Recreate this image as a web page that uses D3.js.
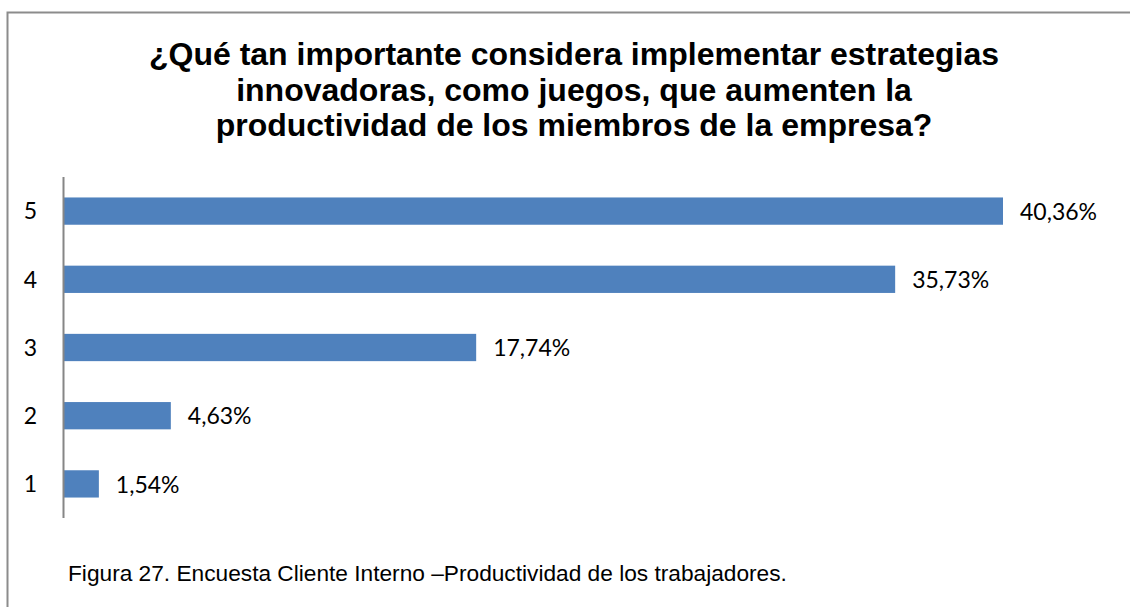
<!DOCTYPE html>
<html>
<head>
<meta charset="utf-8">
<script src="https://cdn.jsdelivr.net/npm/d3@7"></script>
<style>
  html, body { margin: 0; padding: 0; background: #fff; }
  svg { display: block; }
</style>
</head>
<body>
<svg id="chart" width="1130" height="607"></svg>
<script>
// Survey answers (scale 1–5) and their share of responses, in percent
const categories = ["5", "4", "3", "2", "1"];
const percentages = [40.36, 35.73, 17.74, 4.63, 1.54];
const valueLabels = ["40,36%", "35,73%", "17,74%", "4,63%", "1,54%"];
const titleLines = [
  "¿Qué tan importante considera implementar estrategias",
  "innovadoras, como juegos, que aumenten la",
  "productividad de los miembros de la empresa?"
];
const caption = "Figura 27. Encuesta Cliente Interno –Productividad de los trabajadores.";

const svg = d3.select("#chart");
const W = 1130, H = 607;

// Outer frame (top and left edges)
svg.append("path")
  .attr("d", `M7.5,${H} L7.5,12.5 L${W},12.5`)
  .attr("fill", "none")
  .attr("stroke", "#8c8c8c")
  .attr("stroke-width", 2);

// Title
svg.append("text")
  .attr("text-anchor", "middle")
  .attr("font-family", "Liberation Sans, Arial, sans-serif")
  .attr("font-weight", "bold")
  .attr("font-size", 32)
  .attr("fill", "#000")
  .selectAll("tspan")
  .data(titleLines)
  .join("tspan")
  .attr("x", 574)
  .attr("y", (d, i) => 65 + i * 35.5)
  .text(d => d);

// Plot area
const plot = { left: 63, right: 1003, top: 177, bottom: 518 };

const x = d3.scaleLinear()
  .domain([0, 40.36])
  .range([plot.left, plot.right]);

const y = d3.scaleBand()
  .domain(categories)
  .range([plot.top, plot.bottom])
  .paddingInner(0.6)
  .paddingOuter(0.3);

// Bars
svg.append("g")
  .selectAll("rect")
  .data(categories)
  .join("rect")
  .attr("x", x(0))
  .attr("y", d => y(d))
  .attr("width", (d, i) => x(percentages[i]) - x(0))
  .attr("height", y.bandwidth())
  .attr("fill", "#4f81bd");

// Category axis
const yAxis = d3.axisLeft(y).tickSize(0).tickPadding(26);
const gAxis = svg.append("g")
  .attr("transform", `translate(${plot.left},0)`)
  .call(yAxis);
gAxis.select(".domain")
  .attr("d", `M0.5,${plot.top} V${plot.bottom}`)
  .attr("stroke", "#868686")
  .attr("stroke-width", 2);
gAxis.selectAll("text")
  .attr("font-family", "Lato, Calibri, sans-serif")
  .attr("font-size", 23)
  .attr("dy", "0.36em")
  .attr("fill", "#000");

// Value labels
svg.append("g")
  .selectAll("text")
  .data(categories)
  .join("text")
  .attr("x", (d, i) => x(percentages[i]) + 17)
  .attr("y", d => y(d) + y.bandwidth() / 2)
  .attr("dy", "0.38em")
  .attr("font-family", "Lato, Calibri, sans-serif")
  .attr("font-size", 23)
  .attr("fill", "#000")
  .text((d, i) => valueLabels[i]);

// Caption
svg.append("text")
  .attr("x", 68)
  .attr("y", 581)
  .attr("font-family", "Liberation Sans, Arial, sans-serif")
  .attr("font-size", 22.7)
  .attr("fill", "#000")
  .text(caption);
</script>
</body>
</html>
